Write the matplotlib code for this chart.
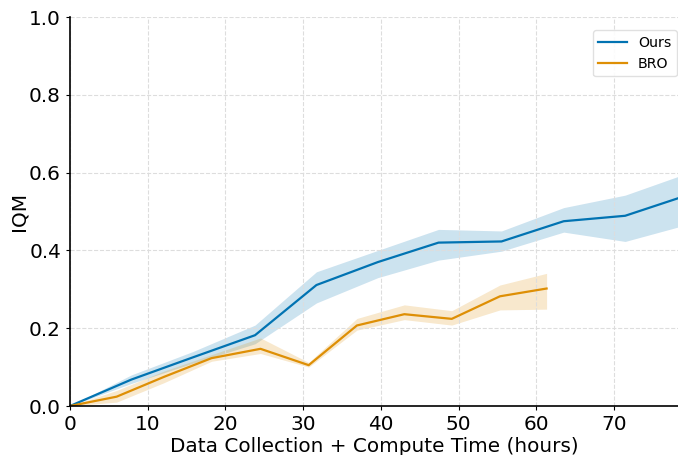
import numpy as np
import matplotlib.pyplot as plt

# ── Data ──────────────────────────────────────────────────────────────────────
ours_t    = [0, 7.9, 15.8, 23.8, 31.7, 39.6, 47.4, 55.5, 63.5, 71.4, 78.2]
ours_iqm  = [0, 0.068, 0.125, 0.182, 0.311, 0.370, 0.420, 0.423, 0.475, 0.489, 0.534]
ours_low  = [0, 0.058, 0.110, 0.160, 0.265, 0.330, 0.375, 0.398, 0.447, 0.423, 0.460]
ours_high = [0, 0.080, 0.140, 0.208, 0.345, 0.400, 0.454, 0.450, 0.510, 0.542, 0.590]

bro_t    = [0, 6.0, 12.1, 18.2, 24.5, 30.7, 36.9, 43.0, 49.1, 55.3, 61.3]
bro_iqm  = [0, 0.024, 0.075, 0.123, 0.147, 0.105, 0.207, 0.236, 0.224, 0.282, 0.302]
bro_low  = [0, 0.010, 0.060, 0.115, 0.135, 0.100, 0.195, 0.222, 0.208, 0.247, 0.249]
bro_high = [0, 0.040, 0.090, 0.132, 0.175, 0.112, 0.225, 0.260, 0.245, 0.311, 0.341]

BLUE   = '#0173b2'
ORANGE = '#de8f05'

fig = plt.figure(figsize=(6.78, 4.55), dpi=100)
ax = fig.add_axes([70 / 678, 49 / 455, 608 / 678, 389 / 455])

for t, m, lo, hi, c, name in [
    (ours_t, ours_iqm, ours_low, ours_high, BLUE, "Ours"),
    (bro_t,  bro_iqm,  bro_low,  bro_high,  ORANGE, "BRO"),
]:
    ax.plot(t, m, color=c, lw=1.6, label=name)
    ax.fill_between(t, lo, hi, color=c, alpha=0.2, lw=0)

ax.set_xlim(0, 78.2)
ax.set_ylim(0, 1.0)
ax.set_xticks(range(0, 80, 10))
ax.set_yticks(np.arange(0, 1.01, 0.2))
ax.tick_params(labelsize=14.4, length=3)
ax.set_xlabel("Data Collection + Compute Time (hours)", fontsize=14.4, labelpad=2)
ax.set_ylabel("IQM", fontsize=14.4, labelpad=0)
ax.grid(True, ls='--', color='#dddddd', lw=0.8)
ax.spines['top'].set_visible(False)
ax.spines['right'].set_visible(False)
ax.spines['left'].set_linewidth(1.2)
ax.spines['bottom'].set_linewidth(1.2)
ax.legend(loc='upper left', bbox_to_anchor=(0.848, 0.985), fontsize=10.2,
          framealpha=0.9, edgecolor='#dddddd')

fig.savefig("out.png", dpi=100)
